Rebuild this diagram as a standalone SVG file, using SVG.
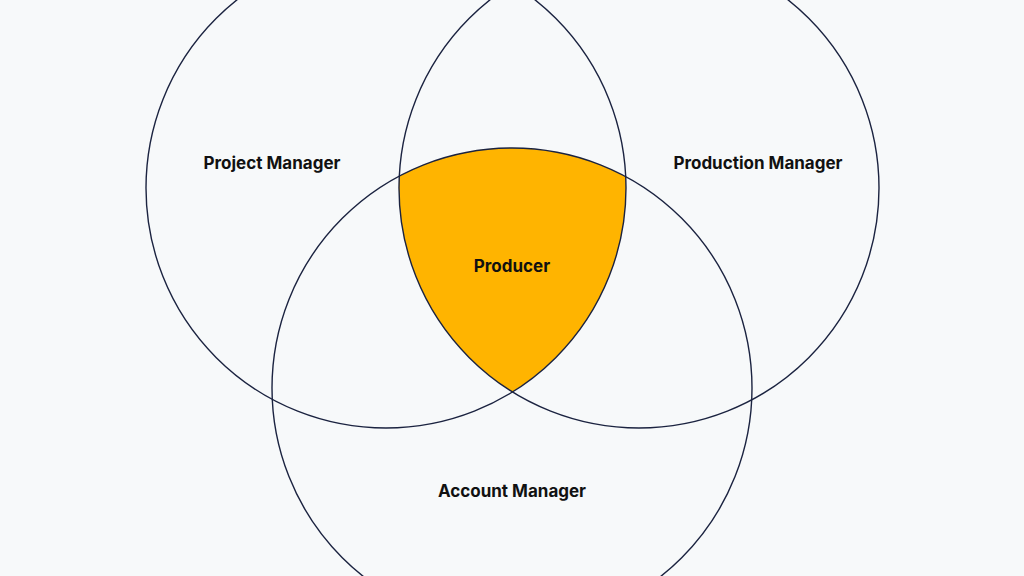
<svg xmlns="http://www.w3.org/2000/svg" width="1024" height="576" viewBox="0 0 1024 576">
<style>
.c{fill:none;stroke:#1b2340;stroke-width:1.4}
.t{font-family:Inter,"Open Sans",sans-serif;font-weight:700;font-size:17px;fill:#111;text-anchor:middle}
</style>
<rect width="1024" height="576" fill="#f7f9fa"/>
<g id="producer"><path d="M399.2,176.1 A240 240 0 0 1 625.7,176.7 A240 240 0 0 1 512.5,392 A240 240 0 0 1 399.2,176.1Z" fill="#ffb400"/><text class="t" x="512" y="272">Producer</text></g>
<g id="project-manager"><circle class="c" cx="386" cy="188" r="240"/><text class="t" x="272" y="169">Project Manager</text></g>
<g id="production-manager"><circle class="c" cx="639" cy="188" r="240"/><text class="t" x="758" y="169">Production Manager</text></g>
<g id="account-manager"><circle class="c" cx="512" cy="388" r="240"/><text class="t" x="512" y="497">Account Manager</text></g>
<g id="connectors"/>
</svg>
